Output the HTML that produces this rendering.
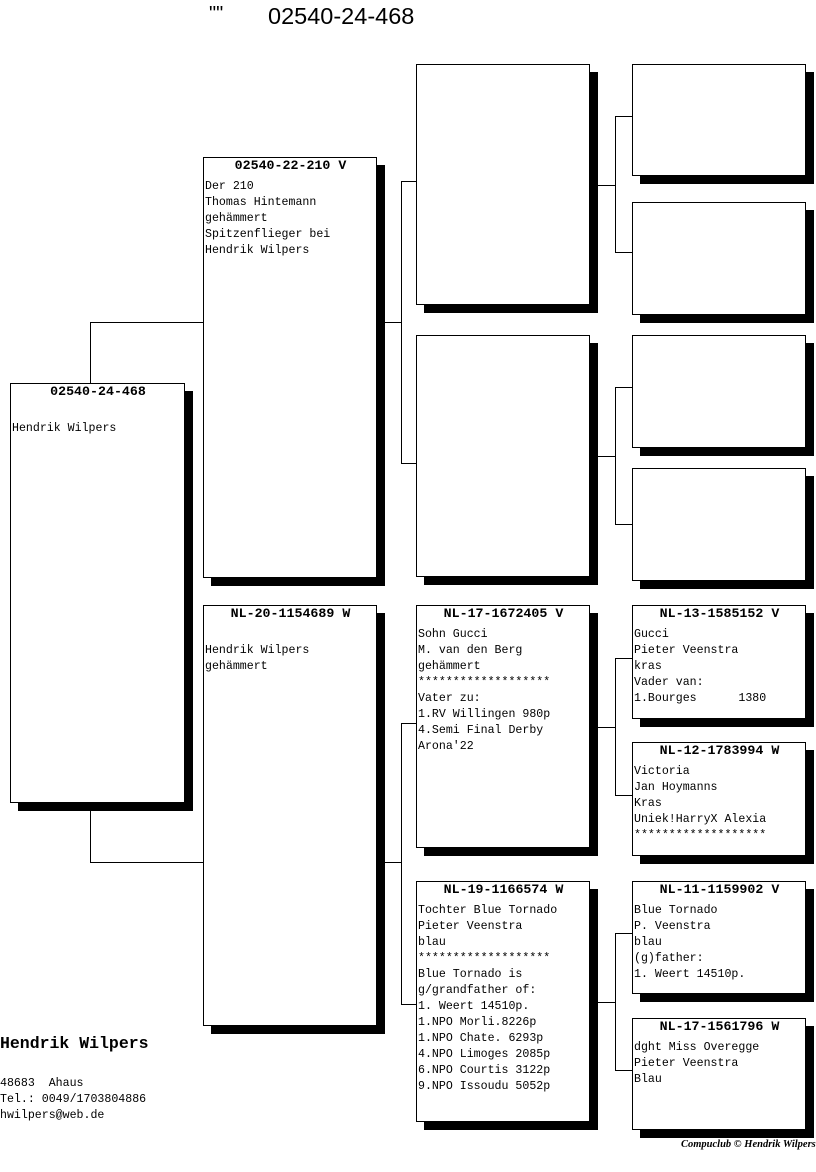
<!DOCTYPE html>
<html><head><meta charset="utf-8"><style>
body{margin:0;width:816px;height:1172px;background:#fff;position:relative;overflow:hidden;font-family:"Liberation Mono",monospace;}
.b{position:absolute;border:1px solid #000;background:#fff;box-shadow:8px 8px 0 #000;box-sizing:border-box;font-size:11.6px;line-height:16px;padding:0 0 0 1px;white-space:pre;color:#000}
.h{text-align:center;font-weight:bold;font-size:13.3px;line-height:16px;margin-top:0px;margin-bottom:5px}
.l{position:absolute;background:#000}
.t{position:absolute;white-space:pre;color:#000}
</style></head><body>
<div class="t" style="left:209px;top:3px;font-family:'Liberation Sans',sans-serif;font-size:20px;">""</div>
<div class="t" style="left:268px;top:3px;font-family:'Liberation Sans',sans-serif;font-size:23.5px;">02540-24-468</div>

<!-- connectors -->
<div class="l" style="left:90px;top:322px;width:1px;height:61px"></div>
<div class="l" style="left:90px;top:322px;width:113px;height:1px"></div>
<div class="l" style="left:90px;top:810px;width:1px;height:52px"></div>
<div class="l" style="left:90px;top:862px;width:113px;height:1px"></div>

<div class="l" style="left:384px;top:322px;width:17px;height:1px"></div>
<div class="l" style="left:401px;top:181px;width:1px;height:283px"></div>
<div class="l" style="left:401px;top:181px;width:15px;height:1px"></div>
<div class="l" style="left:401px;top:463px;width:15px;height:1px"></div>

<div class="l" style="left:384px;top:862px;width:17px;height:1px"></div>
<div class="l" style="left:401px;top:723px;width:1px;height:282px"></div>
<div class="l" style="left:401px;top:723px;width:15px;height:1px"></div>
<div class="l" style="left:401px;top:1004px;width:15px;height:1px"></div>

<div class="l" style="left:597px;top:185px;width:18px;height:1px"></div>
<div class="l" style="left:615px;top:116px;width:1px;height:137px"></div>
<div class="l" style="left:615px;top:116px;width:17px;height:1px"></div>
<div class="l" style="left:615px;top:252px;width:17px;height:1px"></div>

<div class="l" style="left:597px;top:456px;width:18px;height:1px"></div>
<div class="l" style="left:615px;top:387px;width:1px;height:138px"></div>
<div class="l" style="left:615px;top:387px;width:17px;height:1px"></div>
<div class="l" style="left:615px;top:524px;width:17px;height:1px"></div>

<div class="l" style="left:597px;top:727px;width:18px;height:1px"></div>
<div class="l" style="left:615px;top:658px;width:1px;height:138px"></div>
<div class="l" style="left:615px;top:658px;width:17px;height:1px"></div>
<div class="l" style="left:615px;top:795px;width:17px;height:1px"></div>

<div class="l" style="left:597px;top:1002px;width:18px;height:1px"></div>
<div class="l" style="left:615px;top:933px;width:1px;height:138px"></div>
<div class="l" style="left:615px;top:933px;width:17px;height:1px"></div>
<div class="l" style="left:615px;top:1070px;width:17px;height:1px"></div>

<!-- main -->
<div class="b" style="left:10px;top:383px;width:175px;height:420px"><div class="h">02540-24-468</div>
Hendrik Wilpers</div>

<!-- gen1 -->
<div class="b" style="left:203px;top:157px;width:174px;height:421px"><div class="h">02540-22-210 V</div>Der 210
Thomas Hintemann
gehämmert
Spitzenflieger bei
Hendrik Wilpers</div>
<div class="b" style="left:203px;top:605px;width:174px;height:421px"><div class="h">NL-20-1154689 W</div>
Hendrik Wilpers
gehämmert</div>

<!-- gen2 -->
<div class="b" style="left:416px;top:64px;width:174px;height:241px"></div>
<div class="b" style="left:416px;top:335px;width:174px;height:242px"></div>
<div class="b" style="left:416px;top:605px;width:174px;height:243px"><div class="h">NL-17-1672405 V</div>Sohn Gucci
M. van den Berg
gehämmert
*******************
Vater zu:
1.RV Willingen 980p
4.Semi Final Derby
Arona'22</div>
<div class="b" style="left:416px;top:881px;width:174px;height:241px"><div class="h">NL-19-1166574 W</div>Tochter Blue Tornado
Pieter Veenstra
blau
*******************
Blue Tornado is
g/grandfather of:
1. Weert 14510p.
1.NPO Morli.8226p
1.NPO Chate. 6293p
4.NPO Limoges 2085p
6.NPO Courtis 3122p
9.NPO Issoudu 5052p</div>

<!-- gen3 -->
<div class="b" style="left:632px;top:64px;width:174px;height:112px"></div>
<div class="b" style="left:632px;top:202px;width:174px;height:113px"></div>
<div class="b" style="left:632px;top:335px;width:174px;height:113px"></div>
<div class="b" style="left:632px;top:468px;width:174px;height:113px"></div>
<div class="b" style="left:632px;top:605px;width:174px;height:114px"><div class="h">NL-13-1585152 V</div>Gucci
Pieter Veenstra
kras
Vader van:
1.Bourges      1380</div>
<div class="b" style="left:632px;top:742px;width:174px;height:114px"><div class="h">NL-12-1783994 W</div>Victoria
Jan Hoymanns
Kras
Uniek!HarryX Alexia
*******************</div>
<div class="b" style="left:632px;top:881px;width:174px;height:113px"><div class="h">NL-11-1159902 V</div>Blue Tornado
P. Veenstra
blau
(g)father:
1. Weert 14510p.</div>
<div class="b" style="left:632px;top:1018px;width:174px;height:112px"><div class="h">NL-17-1561796 W</div>dght Miss Overegge
Pieter Veenstra
Blau</div>

<div class="t" style="left:0;top:1034px;font-size:16.5px;font-weight:bold;">Hendrik Wilpers</div>
<div class="t" style="left:0;top:1076px;font-size:11.6px;line-height:16px;">48683  Ahaus
Tel.: 0049/1703804886
hwilpers@web.de</div>
<div class="t" style="left:681px;top:1139px;font-size:10.5px;font-weight:bold;font-family:'Liberation Serif',serif;font-style:italic;">Compuclub © Hendrik Wilpers</div>
</body></html>
